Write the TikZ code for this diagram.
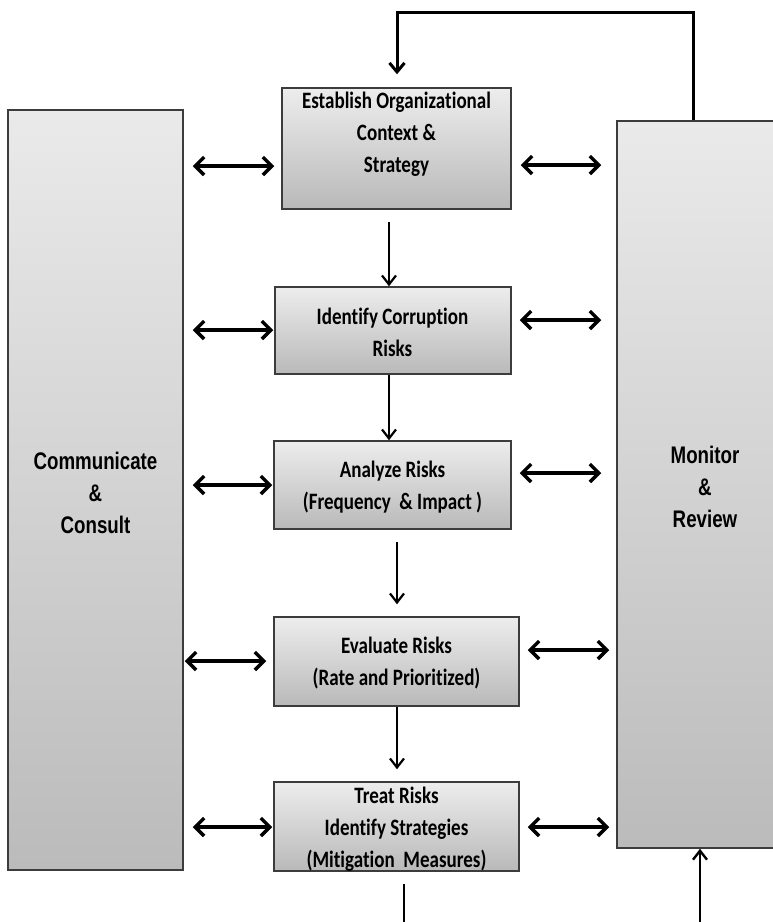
\documentclass[tikz,border=0pt]{standalone}
\usepackage{fontspec}
\usetikzlibrary{arrows.meta}
\newfontfamily\boxfont{Carlito}[FakeStretch=0.81, Ligatures=NoCommon]
\newfontfamily\sidefont{Liberation Sans}[FakeStretch=0.78]
\definecolor{boxtop}{HTML}{EDEDED}
\definecolor{boxbot}{HTML}{B9B9B9}
\definecolor{sidetop}{HTML}{EAEAEA}
\definecolor{sidebot}{HTML}{BBBBBB}
\definecolor{edge}{HTML}{3C3C3C}
\begin{document}
\begin{tikzpicture}[x=1pt,y=-1pt,
  box/.style={draw=edge, line width=1.5pt, top color=boxtop, bottom color=boxbot, inner sep=0pt, rectangle},
  sidebox/.style={draw=edge, line width=1.5pt, top color=sidetop, bottom color=sidebot, inner sep=0pt, rectangle},
  btext/.style={font=\boxfont\bfseries\fontsize{23.5}{32}\selectfont, align=center, text=black, inner sep=0pt},
  stext/.style={font=\sidefont\bfseries\fontsize{24}{32}\selectfont, align=center, text=black, inner sep=0pt},
  dbl/.style={line width=3.4pt, {Straight Barb[length=9pt,width=18pt]}-{Straight Barb[length=9pt,width=18pt]}},
  flow/.style={line width=2.2pt, -{Straight Barb[length=9pt,width=14pt]}},
  plain/.style={line width=3pt}]
\useasboundingbox (0,0) rectangle (773,922);
\clip (0,0) rectangle (773,922);
\fill[white] (0,0) rectangle (773,922);

% side boxes
\node[sidebox, minimum width=175pt, minimum height=760pt] (L) at (95.5,490) {};
\node[stext] (Lt) at (95.5,493) {Communicate\\\&\\Consult};
\node[sidebox, minimum width=176pt, minimum height=727pt] (R) at (705,484.5) {};
\node[stext] (Rt) at (705,487) {Monitor\\\&\\Review};

% process boxes
\node[box, minimum width=229pt, minimum height=121pt] (b1) at (396.5,148.5) {};
\node[btext] (t1) at (396.5,134) {Establish Organizational\\Context \&\\Strategy};
\node[box, minimum width=236pt, minimum height=87pt] (b2) at (393,330.5) {};
\node[btext] (t2) at (392.5,332) {Identify Corruption\\Risks};
\node[box, minimum width=237pt, minimum height=88pt] (b3) at (392.5,485) {};
\node[btext] (t3) at (392.5,487) {Analyze Risks\\(Frequency~ \& Impact )};
\node[box, minimum width=245pt, minimum height=89pt] (b4) at (396.5,661.5) {};
\node[btext] (t4) at (396.5,663) {Evaluate Risks\\(Rate and Prioritized)};
\node[box, minimum width=245pt, minimum height=89pt] (b5) at (396.5,826.5) {};
\node[btext] (t5) at (396.5,829) {Treat Risks\\Identify Strategies\\(Mitigation~ Measures)};

% feedback loop
\coordinate (fbR) at (693,12);
\coordinate (fbL) at (397,12);
\draw[plain, -{Straight Barb[length=9pt,width=15pt]}] (R.north -| fbR) -- (fbR) -- (fbL) -- ([yshift=13pt]b1.north -| fbL);

% vertical flow
\draw[flow] ([yshift=-12pt]b1.south -| 389,0) -- (b2.north -| 389,0);
\draw[flow] (b2.south -| 389,0) -- (b3.north -| 389,0);
\draw[flow] ([yshift=-12pt]b3.south -| 397,0) -- ([yshift=12pt]b4.north -| 397,0);
\draw[flow] (b4.south -| 397,0) -- ([yshift=12pt]b5.north -| 397,0);
\coordinate (outB) at (404,925);
\draw[line width=2.4pt] ([yshift=-12pt]b5.south -| outB) -- (outB);
\coordinate (inR) at (700,925);
\draw[line width=2.4pt, -{Straight Barb[length=9pt,width=14pt]}] (inR) -- (R.south -| inR);

% left double arrows
\draw[dbl] ([xshift=9pt]L.east |- 0,166) -- ([xshift=-7pt]b1.west |- 0,166);
\draw[dbl] ([xshift=9pt]L.east |- 0,330) -- ([xshift=-1pt]b2.west |- 0,330);
\draw[dbl] ([xshift=9pt]L.east |- 0,485) -- ([xshift=-1pt]b3.west |- 0,485);
\draw[dbl] ([xshift=1pt]L.east |- 0,661) -- ([xshift=-7pt]b4.west |- 0,661);
\draw[dbl] ([xshift=9pt]L.east |- 0,827) -- ([xshift=-1pt]b5.west |- 0,827);

% right double arrows
\draw[dbl] ([xshift=9pt]b1.east |- 0,165) -- ([xshift=-15pt]R.west |- 0,165);
\draw[dbl] ([xshift=8pt]b2.east |- 0,320) -- ([xshift=-15pt]R.west |- 0,320);
\draw[dbl] ([xshift=8pt]b3.east |- 0,473) -- ([xshift=-15pt]R.west |- 0,473);
\draw[dbl] ([xshift=8pt]b4.east |- 0,650) -- ([xshift=-7pt]R.west |- 0,650);
\draw[dbl] ([xshift=8pt]b5.east |- 0,827) -- ([xshift=-7pt]R.west |- 0,827);
\end{tikzpicture}
\end{document}
